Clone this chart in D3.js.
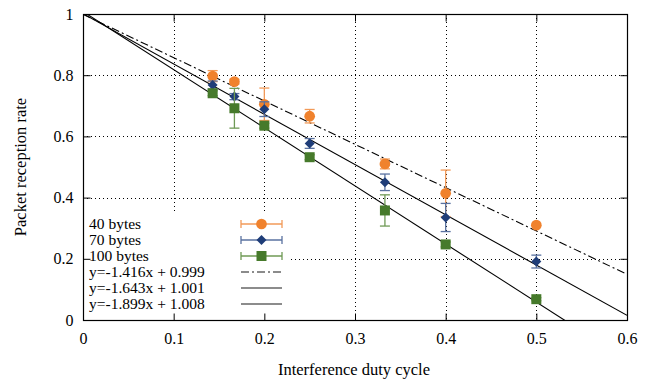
<!DOCTYPE html>
<html lang="en">
<meta charset="utf-8">
<head>
    <script src="https://d3js.org/d3.v7.min.js"></script>
</head>
<body style="margin:0">
<div id="chart"></div>
<script>
// Data
const dutyCycle = [0.143, 0.167, 0.2, 0.25, 0.333, 0.4, 0.5];
const prr40  = [0.797, 0.779, 0.705, 0.666, 0.510, 0.414, 0.310];
const err40  = [0.018, 0.008, 0.053, 0.022, 0.016, 0.076, 0.0];
const prr70  = [0.768, 0.730, 0.689, 0.577, 0.450, 0.335, 0.191];
const err70  = [0.013, 0.010, 0.024, 0.016, 0.027, 0.046, 0.021];
const prr100 = [0.741, 0.692, 0.635, 0.532, 0.358, 0.247, 0.068];
const err100 = [0.008, 0.065, 0.008, 0.008, 0.051, 0.008, 0.005];
const seriesNames = ['40 bytes', '70 bytes', '100 bytes'];
const fitSlopes = [-1.416, -1.643, -1.899];
const fitIntercepts = [0.999, 1.001, 1.008];
const fitNames = ['y=-1.416x + 0.999', 'y=-1.643x + 1.001', 'y=-1.899x + 1.008'];
const xTicks = [0, 0.1, 0.2, 0.3, 0.4, 0.5, 0.6];
const yTicks = [0, 0.2, 0.4, 0.6, 0.8, 1];

const W = 651, H = 380;
const pL = 83, pR = 627, pT = 14, pB = 320;

const colors = ['#f0822d', '#1f3d78', '#467a2b'];
const errColors = ['#f29a58', '#5a72a0', '#6f9a55'];
const shapes = [d3.symbolCircle, d3.symbolSquare, d3.symbolSquare];
const sizes = [90, 50, 100];
const rotations = [0, 45, 0];
const dashes = ['8,3,2,3', null, null];

const series = [
    { y: prr40, e: err40 },
    { y: prr70, e: err70 },
    { y: prr100, e: err100 }
];

const svg = d3.select('#chart').append('svg')
    .attr('width', W).attr('height', H);

const x = d3.scaleLinear().domain([0, 0.6]).range([pL, pR]);
const y = d3.scaleLinear().domain([0, 1]).range([pB, pT]);

svg.append('defs').append('clipPath').attr('id', 'plot')
    .append('rect').attr('x', pL).attr('y', pT)
    .attr('width', pR - pL).attr('height', pB - pT);

// dotted grid
const grid = svg.append('g').attr('stroke', '#000').attr('stroke-width', 1)
    .attr('stroke-dasharray', '1,3');
grid.selectAll('.gx').data(xTicks.slice(1, -1)).join('line')
    .attr('x1', d => Math.round(x(d)) + 0.5).attr('x2', d => Math.round(x(d)) + 0.5)
    .attr('y1', pT).attr('y2', pB);
grid.selectAll('.gy').data(yTicks.slice(1, -1)).join('line')
    .attr('y1', d => Math.round(y(d)) + 0.5).attr('y2', d => Math.round(y(d)) + 0.5)
    .attr('x1', pL).attr('x2', pR);

// fit lines
const plot = svg.append('g').attr('clip-path', 'url(#plot)');
fitSlopes.forEach((m, i) => {
    const pts = [0, 0.6].map(v => [v, m * v + fitIntercepts[i]]);
    plot.append('path')
        .datum(pts)
        .attr('fill', 'none')
        .attr('stroke', '#000')
        .attr('stroke-width', 1.1)
        .attr('stroke-dasharray', dashes[i])
        .attr('d', d3.line().x(d => x(d[0])).y(d => y(d[1])));
});

function marker(g, i, cx, cy) {
    g.append('path')
        .attr('d', d3.symbol().type(shapes[i]).size(sizes[i])())
        .attr('transform', `translate(${cx},${cy}) rotate(${rotations[i]})`)
        .attr('fill', colors[i]);
}

// error bars and points
series.forEach((s, i) => {
    const g = svg.append('g');
    dutyCycle.forEach((dc, j) => {
        const cx = x(dc), e = s.e[j];
        if (e > 0) {
            const y1 = y(s.y[j] + e), y2 = y(s.y[j] - e);
            g.append('line').attr('x1', cx).attr('x2', cx).attr('y1', y1).attr('y2', y2)
                .attr('stroke', errColors[i]).attr('stroke-width', 1.3);
            [y1, y2].forEach(yy => g.append('line')
                .attr('x1', cx - 5).attr('x2', cx + 5).attr('y1', yy).attr('y2', yy)
                .attr('stroke', errColors[i]).attr('stroke-width', 1.3));
        }
        marker(g, i, cx, y(s.y[j]));
    });
});

// legend with opaque background
const legend = svg.append('g');
legend.append('rect').attr('x', pL + 1).attr('y', 213)
    .attr('width', 207).attr('height', pB - 213 - 0.5).attr('fill', '#fff');
const rowY = d => 224 + d * 16;
const sx1 = 241, sx2 = 282, sxm = 261.5;
seriesNames.forEach((name, i) => {
    const yy = rowY(i);
    legend.append('text').attr('x', 89).attr('y', yy + 5)
        .attr('font-size', 15.5).text(name);
    legend.append('line').attr('x1', sx1).attr('x2', sx2).attr('y1', yy).attr('y2', yy)
        .attr('stroke', errColors[i]).attr('stroke-width', 1.3);
    [sx1, sx2].forEach(xx => legend.append('line')
        .attr('x1', xx).attr('x2', xx).attr('y1', yy - 4).attr('y2', yy + 4)
        .attr('stroke', errColors[i]).attr('stroke-width', 1.3));
    marker(legend, i, sxm, yy);
});
fitNames.forEach((name, i) => {
    const yy = rowY(i + 3);
    legend.append('text').attr('x', 89).attr('y', yy + 5)
        .attr('font-size', 15.5).text(name);
    legend.append('line').attr('x1', sx1).attr('x2', sx2).attr('y1', yy).attr('y2', yy)
        .attr('stroke', '#666').attr('stroke-width', 1.3)
        .attr('stroke-dasharray', dashes[i]);
});

// frame and ticks (mirrored, inward)
svg.append('rect').attr('x', pL + 0.5).attr('y', pT + 0.5)
    .attr('width', pR - pL).attr('height', pB - pT)
    .attr('fill', 'none').attr('stroke', '#000').attr('stroke-width', 1.2);

const tickLen = 7;
svg.append('g').attr('transform', `translate(0,${pB + 0.5})`)
    .call(d3.axisBottom(x).tickValues(xTicks).tickSize(-tickLen).tickPadding(12)
        .tickFormat(d => d === 0 ? '0' : d3.format('.1f')(d)))
    .call(g => g.select('.domain').remove());
svg.append('g').attr('transform', `translate(0,${pT + 0.5})`)
    .call(d3.axisTop(x).tickValues(xTicks).tickSize(-tickLen).tickFormat(''))
    .call(g => g.select('.domain').remove());
svg.append('g').attr('transform', `translate(${pL + 0.5},0)`)
    .call(d3.axisLeft(y).tickValues(yTicks).tickSize(-tickLen).tickPadding(10)
        .tickFormat(d => d === 0 || d === 1 ? String(d) : d3.format('.1f')(d)))
    .call(g => g.select('.domain').remove());
svg.append('g').attr('transform', `translate(${pR + 0.5},0)`)
    .call(d3.axisRight(y).tickValues(yTicks).tickSize(-tickLen).tickFormat(''))
    .call(g => g.select('.domain').remove());

svg.selectAll('.tick text').attr('font-size', 16).attr('fill', '#000');
svg.selectAll('.tick line').attr('stroke', '#000');

// axis titles
svg.append('text').attr('x', 354).attr('y', 375)
    .attr('text-anchor', 'middle').attr('font-size', 16.5)
    .text('Interference duty cycle');
svg.append('text')
    .attr('transform', `translate(26,${(pT + pB) / 2}) rotate(-90)`)
    .attr('text-anchor', 'middle').attr('font-size', 16.5)
    .text('Packet reception rate');

svg.selectAll('text').style('font-family', '"Liberation Serif"');
</script>
</body>
</html>
